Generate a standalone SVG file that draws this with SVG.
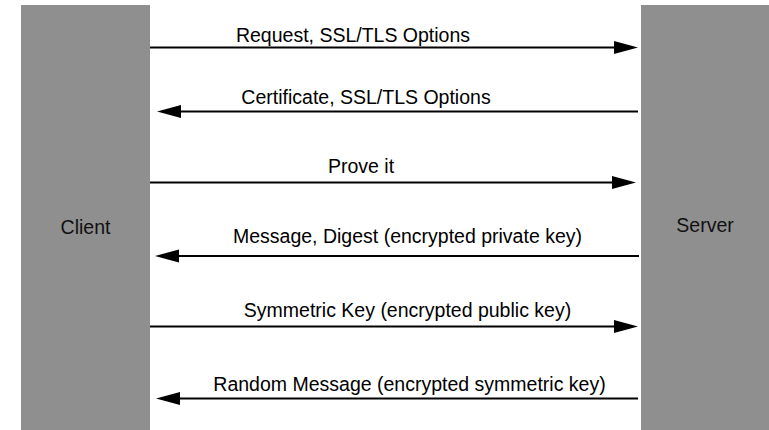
<svg xmlns="http://www.w3.org/2000/svg" width="769" height="430" viewBox="0 0 769 430">
  <style>
    .actor { fill: #8f8f8f; }
    .actor-label { font-family: "Liberation Sans", Arial, sans-serif; font-size: 19.5px; fill: #111; text-anchor: middle; }
    .msg { stroke: #000; stroke-width: 2; fill: none; }
    .head { fill: #000; }
    .msg-label { font-family: "Liberation Sans", Arial, sans-serif; font-size: 19.5px; fill: #000; text-anchor: middle; }
  </style>
  <rect x="0" y="0" width="769" height="430" fill="#fff"/>

  <g id="client">
    <rect class="actor" x="21" y="5" width="129" height="425"/>
    <text class="actor-label" x="85.5" y="234">Client</text>
  </g>

  <g id="server">
    <rect class="actor" x="641" y="5" width="128" height="425"/>
    <text class="actor-label" x="705" y="232">Server</text>
  </g>

  <g id="connectors">
    <!-- client to server -->
    <line class="msg" x1="150" y1="47.5" x2="616" y2="47.5"/>
    <polygon class="head" points="614,41 638,47.5 614,54"/>
    <line class="msg" x1="150" y1="182.5" x2="614" y2="182.5"/>
    <polygon class="head" points="612,176 636,182.5 612,189"/>
    <line class="msg" x1="150" y1="326.5" x2="616" y2="326.5"/>
    <polygon class="head" points="614,320 638,326.5 614,333"/>
    <!-- server to client -->
    <line class="msg" x1="638" y1="111.5" x2="179" y2="111.5"/>
    <polygon class="head" points="181,105 157,111.5 181,118"/>
    <line class="msg" x1="639" y1="256" x2="177" y2="256"/>
    <polygon class="head" points="179,249.5 155,256 179,262.5"/>
    <line class="msg" x1="638" y1="398.5" x2="178" y2="398.5"/>
    <polygon class="head" points="180,392 156,398.5 180,405"/>
  </g>

  <g id="labels">
    <text class="msg-label" x="353" y="42">Request, SSL/TLS Options</text>
    <text class="msg-label" x="366" y="103.5">Certificate, SSL/TLS Options</text>
    <text class="msg-label" x="361" y="172.5">Prove it</text>
    <text class="msg-label" x="407.5" y="243">Message, Digest (encrypted private key)</text>
    <text class="msg-label" x="407.5" y="316.5">Symmetric Key (encrypted public key)</text>
    <text class="msg-label" x="409.5" y="391">Random Message (encrypted symmetric key)</text>
  </g>
</svg>
